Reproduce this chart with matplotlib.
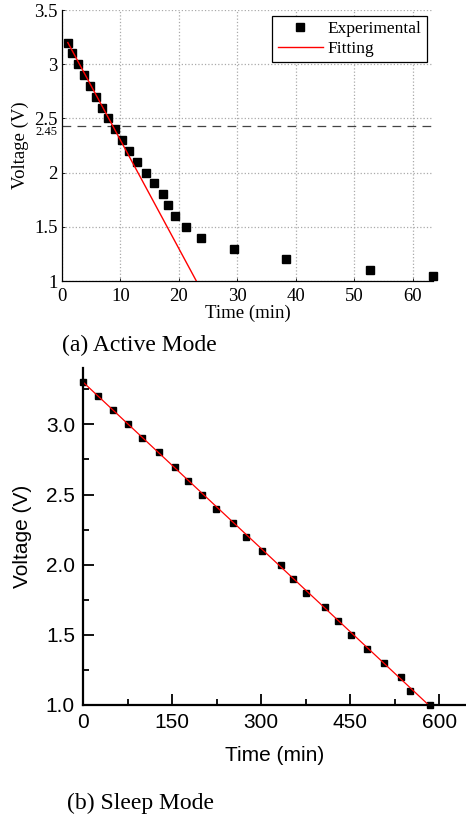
import matplotlib
matplotlib.use('Agg')
import matplotlib.pyplot as plt
import numpy as np
from matplotlib.ticker import MultipleLocator

# (a) active mode discharge
active_t = [1.0, 1.8, 2.8, 3.8, 4.8, 5.8, 6.9, 7.9, 9.1, 10.2, 11.5, 12.8, 14.3,
            15.8, 17.3, 18.2, 19.4, 21.2, 23.8, 29.5, 38.4, 52.8, 63.5]
active_v = [3.2, 3.1, 3.0, 2.9, 2.8, 2.7, 2.6, 2.5, 2.4, 2.3, 2.2, 2.1, 2.0,
            1.9, 1.8, 1.7, 1.6, 1.5, 1.4, 1.3, 1.2, 1.1, 1.05]
active_fit_t = [1.0, 23.0]
active_fit_v = [3.2, 1.0]
threshold = 2.43
threshold_label = '2.45'

# (b) sleep mode discharge
sleep_t = [0, 24, 50, 75, 99, 128, 154, 176, 200, 223, 253, 275, 302, 334,
           354, 375, 407, 429, 452, 478, 507, 535, 551, 585]
sleep_v = [3.3, 3.2, 3.1, 3.0, 2.9, 2.8, 2.7, 2.6, 2.5, 2.4, 2.3, 2.2, 2.1, 2.0,
           1.9, 1.8, 1.7, 1.6, 1.5, 1.4, 1.3, 1.2, 1.1, 1.0]
sleep_fit_t = [0, 582]
sleep_fit_v = [3.3, 1.0]

serif = ['Liberation Serif', 'DejaVu Serif']
sans = ['Liberation Sans', 'DejaVu Sans']

fig = plt.figure(figsize=(4.66, 8.21), dpi=100)

# ---- top plot (MATLAB look) ----
ax1 = fig.add_axes([0.1330, 0.6577, 0.7961, 0.3301])
ax1.plot(active_t, active_v, 's', color='black', markersize=5.5, clip_on=False,
         label='Experimental', zorder=3)
ax1.plot(active_fit_t, active_fit_v, '-', color='red', linewidth=1.0,
         label='Fitting', zorder=4)
ax1.axhline(threshold, color='#444444', linestyle=(0, (7, 5)), linewidth=0.9, zorder=2)
ax1.set_xlim(0, 63.5)
ax1.set_ylim(1, 3.5)
ax1.set_xticks([0, 10, 20, 30, 40, 50, 60])
ax1.set_yticks([1, 1.5, 2, 2.5, 3, 3.5])
ax1.set_yticklabels(['1', '1.5', '2', '2.5', '3', '3.5'])
ax1.grid(True, linestyle=':', color='#aaaaaa', linewidth=0.9)
for s in ['top', 'right']:
    ax1.spines[s].set_visible(False)
for s in ['left', 'bottom']:
    ax1.spines[s].set_linewidth(0.9)
ax1.tick_params(direction='in', length=2, width=0.6, labelsize=13.5, pad=3)
ax1.tick_params(axis='x', pad=5)
for lab in ax1.get_xticklabels() + ax1.get_yticklabels():
    lab.set_family(serif)
ax1.text(-0.012, threshold, threshold_label, transform=ax1.get_yaxis_transform(),
         ha='right', va='top', fontsize=9, family=serif)
ax1.set_xlabel('Time (min)', fontsize=13.5, family=serif, labelpad=0)
ax1.set_ylabel('Voltage (V)', fontsize=13.5, family=serif, labelpad=4)
leg = ax1.legend(loc='upper right', bbox_to_anchor=(0.984, 0.978), borderaxespad=0,
                 prop={'family': serif, 'size': 12.5}, fancybox=False,
                 edgecolor='black', framealpha=1, handlelength=2.6,
                 borderpad=0.3, labelspacing=0.2, handletextpad=0.3)
leg.get_frame().set_linewidth(0.9)
fig.text(62 / 466, 1 - 345 / 821, '(a) Active Mode', fontsize=17, family=serif,
         ha='left', va='center')

# ---- bottom plot (Origin look) ----
ax2 = fig.add_axes([0.1788, 0.1413, 0.8212, 0.4101])
ax2.plot(sleep_t, sleep_v, 's', color='black', markersize=4.2, clip_on=False, zorder=1)
ax2.plot(sleep_fit_t, sleep_fit_v, '-', color='red', linewidth=0.9, clip_on=False, zorder=2)
ax2.set_xlim(0, 645)
ax2.set_ylim(1.0, 3.4)
ax2.xaxis.set_major_locator(MultipleLocator(150))
ax2.xaxis.set_minor_locator(MultipleLocator(75))
ax2.yaxis.set_major_locator(MultipleLocator(0.5))
ax2.yaxis.set_minor_locator(MultipleLocator(0.25))
ax2.yaxis.set_major_formatter(matplotlib.ticker.FormatStrFormatter('%.1f'))
for s in ['top', 'right']:
    ax2.spines[s].set_visible(False)
for s in ['left', 'bottom']:
    ax2.spines[s].set_linewidth(1.6)
    ax2.spines[s].set_zorder(5)
ax2.tick_params(which='major', direction='in', length=8, width=1.3,
                labelsize=15, pad=6)
ax2.tick_params(which='minor', direction='in', length=4.5, width=1.3)
for lab in ax2.get_xticklabels() + ax2.get_yticklabels():
    lab.set_family(sans)
ax2.set_xlabel('Time (min)', fontsize=15, family=sans, labelpad=10)
ax2.set_ylabel('Voltage (V)', fontsize=15, family=sans, labelpad=10)
fig.text(67 / 466, 1 - 803 / 821, '(b) Sleep Mode', fontsize=17, family=serif,
         ha='left', va='center')

fig.savefig('out.png', dpi=100)
